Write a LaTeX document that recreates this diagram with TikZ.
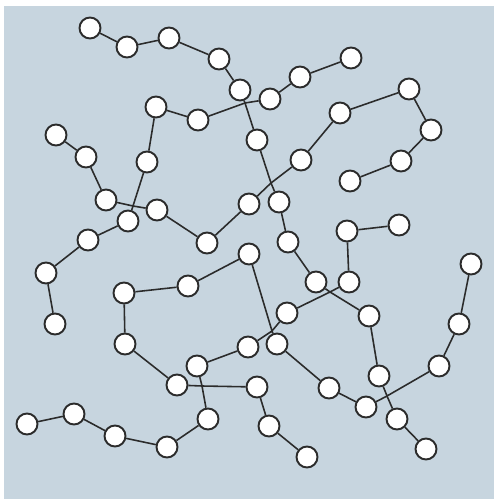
\documentclass[tikz,border=0pt]{standalone}
\usepackage{xcolor}
\usepackage{tikz}
\definecolor{bgblue}{HTML}{C7D5DF}
\definecolor{linkgray}{HTML}{2B2B2B}
\tikzset{
  unit/.style={circle,draw=linkgray,fill=white,line width=1.1pt,minimum size=0.42cm,inner sep=0pt},
  bond/.style={draw=linkgray,line width=0.9pt}
}
\begin{document}
\begin{tikzpicture}[x=0.02cm,y=-0.02cm]
  \useasboundingbox (0,0) rectangle (494,499);
  \fill[bgblue] (4,6) rectangle (494,499);

  \coordinate (xa) at (133,206);
  \coordinate (xb) at (245,103);
  \coordinate (xc) at (271,183);
  \coordinate (xd) at (330,292);
  \coordinate (xe) at (272,331);
  \coordinate (xf) at (202,386);
  \coordinate (xg) at (387,396);

  \node[unit] (a1) at (90,28) {};
  \node[unit] (a2) at (127,47) {};
  \node[unit] (a3) at (169,38) {};
  \node[unit] (a4) at (219,59) {};
  \node[unit] (a5) at (240,90) {};
  \node[unit] (a6) at (257,140) {};
  \node[unit] (a7) at (249,204) {};
  \node[unit] (a8) at (207,243) {};
  \node[unit] (a9) at (157,210) {};
  \node[unit] (a10) at (106,200) {};
  \node[unit] (a11) at (86,157) {};
  \node[unit] (a12) at (56,135) {};

  \node[unit] (b1) at (351,58) {};
  \node[unit] (b2) at (300,77) {};
  \node[unit] (b3) at (270,99) {};
  \node[unit] (b4) at (198,120) {};
  \node[unit] (b5) at (156,107) {};
  \node[unit] (b6) at (147,162) {};
  \node[unit] (b7) at (128,221) {};
  \node[unit] (b8) at (88,240) {};
  \node[unit] (b9) at (46,273) {};
  \node[unit] (b10) at (55,324) {};

  \node[unit] (c1) at (350,181) {};
  \node[unit] (c2) at (401,161) {};
  \node[unit] (c3) at (431,130) {};
  \node[unit] (c4) at (409,89) {};
  \node[unit] (c5) at (340,113) {};
  \node[unit] (c6) at (301,160) {};
  \node[unit] (c7) at (279,202) {};
  \node[unit] (c8) at (288,242) {};
  \node[unit] (c9) at (316,282) {};
  \node[unit] (c10) at (369,316) {};
  \node[unit] (c11) at (379,376) {};
  \node[unit] (c12) at (439,366) {};
  \node[unit] (c13) at (459,324) {};
  \node[unit] (c14) at (471,264) {};

  \node[unit] (d1) at (399,225) {};
  \node[unit] (d2) at (347,231) {};
  \node[unit] (d3) at (349,282) {};
  \node[unit] (d4) at (287,313) {};
  \node[unit] (d5) at (249,254) {};
  \node[unit] (d6) at (188,286) {};
  \node[unit] (d7) at (124,293) {};
  \node[unit] (d8) at (125,344) {};
  \node[unit] (d9) at (177,385) {};
  \node[unit] (d10) at (257,387) {};
  \node[unit] (d11) at (269,426) {};
  \node[unit] (d12) at (307,457) {};

  \node[unit] (e1) at (27,424) {};
  \node[unit] (e2) at (74,414) {};
  \node[unit] (e3) at (115,436) {};
  \node[unit] (e4) at (167,447) {};
  \node[unit] (e5) at (208,419) {};
  \node[unit] (e6) at (197,366) {};
  \node[unit] (e7) at (248,347) {};
  \node[unit] (e8) at (277,344) {};
  \node[unit] (e9) at (329,388) {};
  \node[unit] (e10) at (366,407) {};
  \node[unit] (e11) at (397,419) {};
  \node[unit] (e12) at (426,449) {};

  \draw[bond] (a1) -- (a2) -- (a3) -- (a4) -- (a5) -- (xb) -- (a6) -- (xc) -- (a7) -- (a8) -- (a9) -- (xa) -- (a10) -- (a11) -- (a12);
  \draw[bond] (b1) -- (b2) -- (b3) -- (xb) -- (b4) -- (b5) -- (b6) -- (xa) -- (b7) -- (b8) -- (b9) -- (b10);
  \draw[bond] (c1) -- (c2) -- (c3) -- (c4) -- (c5) -- (c6) -- (xc) -- (c7) -- (c8) -- (c9) -- (xd) -- (c10) -- (c11) -- (xg) -- (c12) -- (c13) -- (c14);
  \draw[bond] (d1) -- (d2) -- (d3) -- (xd) -- (d4) -- (xe) -- (d5) -- (d6) -- (d7) -- (d8) -- (d9) -- (xf) -- (d10) -- (d11) -- (d12);
  \draw[bond] (e1) -- (e2) -- (e3) -- (e4) -- (e5) -- (xf) -- (e6) -- (e7) -- (xe) -- (e8) -- (e9) -- (e10) -- (xg) -- (e11) -- (e12);
\end{tikzpicture}
\end{document}
